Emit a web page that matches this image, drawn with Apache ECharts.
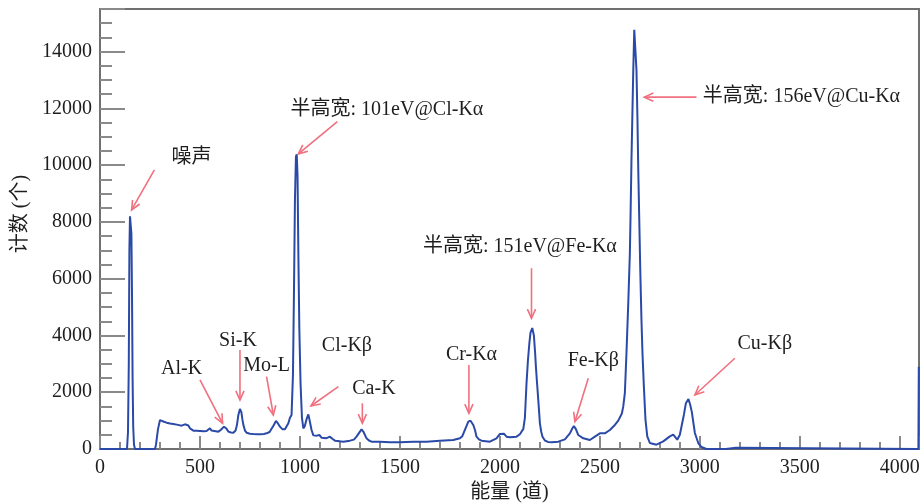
<!DOCTYPE html>
<html>
<head>
<meta charset="utf-8">
<script src="https://cdn.jsdelivr.net/npm/echarts@6/dist/echarts.min.js"></script>
<style>html,body{margin:0;padding:0;background:#fff;}#c{width:923px;height:504px;}</style>
</head>
<body>
<div id="c"></div>
<script>
// Spectrum: channel (道) and counts (个)
const channels = [0,135,140,144,147,150,154,157,160,163,166,170,175,275,280,290,300,305,320,333,350,367,390,408,425,433,442,450,467,485,500,520,533,542,550,558,567,592,605,620,632,642,655,667,678,685,692,700,707,712,717,725,733,750,767,785,800,820,833,848,858,868,880,890,900,912,925,935,942,950,958,965,970,975,980,984,988,992,997,1003,1010,1017,1024,1033,1042,1050,1058,1067,1075,1085,1097,1108,1117,1133,1150,1162,1175,1200,1217,1250,1270,1283,1295,1308,1318,1333,1345,1358,1400,1450,1500,1567,1633,1700,1767,1800,1812,1825,1842,1853,1867,1876,1883,1895,1908,1950,1983,2000,2008,2020,2033,2050,2083,2100,2108,2117,2125,2133,2140,2147,2153,2162,2170,2176,2180,2186,2192,2200,2207,2213,2225,2240,2260,2292,2325,2350,2362,2370,2380,2392,2417,2450,2475,2500,2525,2550,2575,2592,2600,2610,2617,2625,2633,2642,2650,2653,2658,2662,2667,2672,2680,2683,2688,2692,2697,2702,2708,2713,2720,2728,2737,2750,2783,2817,2850,2867,2887,2900,2908,2920,2930,2943,2952,2960,2975,2992,3008,3033,3130,3140,3180,3190,4093,4095];
const counts = [0,0,600,3000,7000,8200,8150,7600,5500,2500,800,150,0,0,150,700,1020,1045,960,928,900,881,850,822,870,904,830,728,646,640,634,625,634,700,728,650,611,611,680,787,720,611,580,575,650,850,1200,1410,1300,1050,850,650,575,540,529,520,517,530,552,600,670,830,987,900,787,700,693,730,904,1100,1200,2600,5500,8800,10300,10380,9600,6900,4200,2300,1100,728,800,1050,1220,950,670,480,435,470,493,400,341,380,435,360,294,270,258,294,330,435,560,693,600,376,300,258,258,235,235,258,258,294,317,376,450,670,963,998,846,650,435,340,294,258,376,530,575,540,435,411,435,520,611,700,1100,2300,3100,3700,4100,4260,4000,3400,2900,2300,1727,905,600,434,300,250,235,258,341,552,720,810,700,493,376,317,435,552,552,670,846,1000,950,1250,1500,1973,3382,5145,6907,8070,10184,11594,13356,14765,14765,13356,11594,9831,8070,6308,4546,3382,2207,1032,446,211,152,270,446,505,329,500,786,1200,1610,1760,1550,1300,564,211,70,0,0,40,40,0,0,2900];

// Axis ticks
const xTicks = [0,500,1000,1500,2000,2500,3000,3500,4000];
const yTicks = [0,2000,4000,6000,8000,10000,12000,14000];

// Annotations: arrow [fromX, fromY, toX, toY] (head at "to")
const arrows = [
  [272, 9832, 158, 8422],
  [1187, 11534, 992, 10396],
  [2983, 12395, 2722, 12395],
  [2158, 6368, 2158, 4606],
  [700, 3489, 700, 1727],
  [500, 2432, 613, 906],
  [833, 2548, 867, 1198],
  [1192, 2195, 1055, 1515],
  [1312, 1610, 1312, 906],
  [1845, 2960, 1845, 1258],
  [2442, 2491, 2375, 962],
  [3175, 3196, 2975, 1903]
];
const labelTexts = ['噪声','半高宽: 101eV@Cl-Kα','半高宽: 156eV@Cu-Kα','半高宽: 151eV@Fe-Kα','Si-K','Al-K','Mo-L','Cl-Kβ','Ca-K','Cr-Kα','Fe-Kβ','Cu-Kβ'];
const labelPos = [[457,10255],[1435,11946],[3015,12395],[2100,7118],[690,3806],[408,2819],[833,2925],[1235,3630],[1370,2114],[1858,3313],[2467,3101],[3325,3700]];
const labelAlign = ['center','center','left','center','center','center','center','center','center','center','center','center'];

const FONT = '"Liberation Serif", "Noto Sans CJK SC", serif';
const AX = '#707070';
const ARROW = '#f0707f';

const chart = echarts.init(document.getElementById('c'), null, {renderer: 'canvas'});
const axisCommon = {
  axisLine: {show: true, lineStyle: {color: AX, width: 2}},
  splitLine: {show: false},
  axisLabel: {color: '#1e1e1e', fontFamily: FONT, fontSize: 20, showMaxLabel: false},
  nameTextStyle: {color: '#1e1e1e', fontFamily: FONT, fontSize: 20}
};
chart.setOption({
  animation: false,
  backgroundColor: '#fff',
  grid: {left: 100, right: 4, top: 9, bottom: 55, show: true, borderColor: AX, borderWidth: 2, containLabel: false, outerBoundsMode: 'none'},
  xAxis: Object.assign({}, axisCommon, {
    type: 'value', min: 0, max: 4096, interval: 500,
    name: '能量 (道)', nameLocation: 'middle', nameGap: 32,
    axisTick: {inside: true, length: 13, lineStyle: {color: '#8a8a8a', width: 2}},
    minorTick: {show: true, splitNumber: 5, length: 7, lineStyle: {color: '#8a8a8a', width: 2}},
    axisLabel: Object.assign({}, axisCommon.axisLabel, {margin: 9, formatter: v => xTicks.includes(v) ? String(v) : ''})
  }),
  yAxis: Object.assign({}, axisCommon, {
    type: 'value', min: 0, max: 15500, interval: 2000,
    name: '计数 (个)', nameLocation: 'middle', nameGap: 68,
    nameTextStyle: Object.assign({}, axisCommon.nameTextStyle, {padding: [0, 0, 0, 30]}),
    axisTick: {inside: true, length: 25, lineStyle: {color: '#8a8a8a', width: 2}},
    minorTick: {show: true, splitNumber: 4, length: 12, lineStyle: {color: '#8a8a8a', width: 2}},
    axisLabel: Object.assign({}, axisCommon.axisLabel, {margin: 8, formatter: v => yTicks.includes(v) ? String(v) : ''})
  }),
  series: [
    {
      type: 'line', data: channels.map((c, i) => [c, counts[i]]),
      showSymbol: false, symbol: 'none',
      lineStyle: {color: '#2b4aa8', width: 2}, z: 3
    },
    {
      type: 'custom', data: arrows, z: 4,
      encode: {x: [0, 2], y: [1, 3]},
      renderItem: function (params, api) {
        const p1 = api.coord([api.value(0), api.value(1)]);
        const p2 = api.coord([api.value(2), api.value(3)]);
        const a = Math.atan2(p2[1] - p1[1], p2[0] - p1[0]);
        const L = 10, w = 0.42;
        const h1 = [p2[0] - L * Math.cos(a - w), p2[1] - L * Math.sin(a - w)];
        const h2 = [p2[0] - L * Math.cos(a + w), p2[1] - L * Math.sin(a + w)];
        return {type: 'group', children: [
          {type: 'line', shape: {x1: p1[0], y1: p1[1], x2: p2[0], y2: p2[1]}, style: {stroke: ARROW, lineWidth: 1.6}},
          {type: 'polyline', shape: {points: [h1, p2, h2]}, style: {stroke: ARROW, fill: null, lineWidth: 1.6}}
        ]};
      }
    },
    {
      type: 'custom', data: labelPos, z: 5,
      encode: {x: 0, y: 1},
      renderItem: function (params, api) {
        const p = api.coord([api.value(0), api.value(1)]);
        return {type: 'text', x: p[0], y: p[1], style: {
          text: labelTexts[params.dataIndex], fill: '#1e1e1e', font: '20px ' + FONT,
          align: labelAlign[params.dataIndex], verticalAlign: 'middle'
        }};
      }
    }
  ]
});
</script>
</body>
</html>
